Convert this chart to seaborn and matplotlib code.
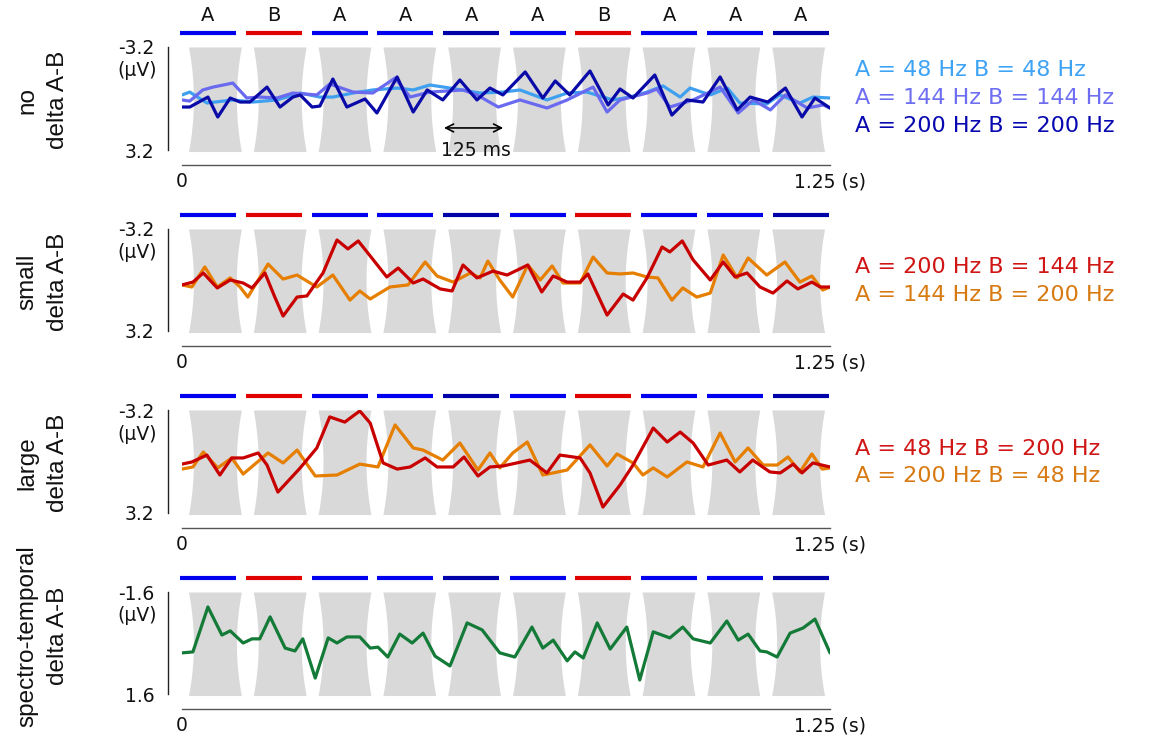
import numpy as np
import pandas as pd
import matplotlib
matplotlib.use("Agg")
import matplotlib.pyplot as plt
import seaborn as sns

# stimulus sequence (10 tones, 125 ms SOA)
tone_labels = ["A", "B", "A", "A", "A", "A", "B", "A", "A", "A"]
bar_colors = ["#0000ee", "#e00000", "#0000ee", "#0000ee", "#0000a8",
              "#0000ee", "#e00000", "#0000ee", "#0000ee", "#0000a8"]
tone_onsets = [0.0125, 0.1375, 0.2625, 0.3875, 0.5125, 0.6375, 0.7625, 0.8875, 1.0125, 1.1375]
tone_dur = 0.102
bar_starts = [-0.004, 0.123, 0.250, 0.377, 0.504, 0.632, 0.759, 0.886, 1.013, 1.140]
bar_len = 0.108

# panel 1: no delta A-B
t_48 = [0.0, 0.015, 0.048, 0.098, 0.137, 0.183, 0.228, 0.266, 0.291, 0.330, 0.368, 0.415, 0.446, 0.478,
        0.517, 0.575, 0.619, 0.652, 0.704, 0.743, 0.781, 0.831, 0.864, 0.897, 0.928, 0.961, 0.980, 1.019,
        1.052, 1.076, 1.128, 1.153, 1.192, 1.217, 1.250]
v_48 = [-0.22, -0.40, 0.28, 0.09, 0.22, 0.09, -0.34, -0.09, -0.09, -0.34, -0.53, -0.65, -0.53, -0.84,
        -0.65, -0.34, -0.40, -0.53, 0.09, -0.34, -0.40, 0.09, -0.09, -0.40, -0.78, -0.09, -0.65, -0.22,
        -0.65, 0.28, 0.34, -0.22, 0.28, -0.09, -0.03]
t_144 = [0.0, 0.015, 0.040, 0.060, 0.098, 0.125, 0.150, 0.183, 0.214, 0.260, 0.285, 0.330, 0.368, 0.411,
         0.440, 0.478, 0.542, 0.569, 0.610, 0.652, 0.704, 0.743, 0.793, 0.820, 0.845, 0.897, 0.916, 0.941,
         0.986, 1.038, 1.073, 1.102, 1.135, 1.164, 1.206, 1.237, 1.250]
v_144 = [0.09, 0.16, -0.53, -0.71, -0.96, -0.03, -0.09, -0.03, -0.34, -0.22, -0.90, -0.40, -0.34, -1.27,
         -0.09, -0.40, -0.53, -0.22, 0.53, 0.09, 0.59, 0.09, -0.71, 0.84, 0.09, -0.34, -0.59, 0.53,
         0.09, -0.71, 0.90, 0.09, 0.71, -0.22, 0.59, 0.40, 0.59]
t_200 = [0.0, 0.015, 0.050, 0.069, 0.093, 0.112, 0.131, 0.164, 0.189, 0.214, 0.228, 0.251, 0.266, 0.291,
         0.318, 0.353, 0.376, 0.415, 0.446, 0.473, 0.503, 0.536, 0.569, 0.594, 0.619, 0.662, 0.696, 0.720,
         0.748, 0.787, 0.822, 0.845, 0.870, 0.912, 0.945, 0.974, 1.005, 1.038, 1.071, 1.096, 1.130, 1.164,
         1.196, 1.221, 1.250]
v_200 = [0.53, 0.53, -0.09, 1.15, -0.03, 0.22, 0.22, -0.71, 0.53, -0.09, -0.22, 0.53, 0.47, -1.21,
         0.53, 0.03, 0.90, -1.34, 0.84, -0.53, 0.09, -1.15, 0.09, -0.65, -0.22, -1.65, -0.03, -1.09,
         -0.22, -1.71, 0.40, -0.59, -0.03, -1.46, 1.03, 0.09, 0.22, -1.34, 0.71, -0.09, 0.22, -0.65,
         1.15, -0.03, 0.59]

# panel 2: small delta A-B
t_s_red = [0.0, 0.021, 0.041, 0.068, 0.093, 0.118, 0.135, 0.160, 0.179, 0.195, 0.222, 0.241, 0.272, 0.299,
           0.320, 0.340, 0.363, 0.395, 0.417, 0.446, 0.465, 0.498, 0.521, 0.542, 0.569, 0.600, 0.627, 0.667,
           0.694, 0.716, 0.743, 0.768, 0.783, 0.820, 0.851, 0.870, 0.897, 0.926, 0.941, 0.965, 0.986, 1.019,
           1.044, 1.067, 1.090, 1.115, 1.140, 1.167, 1.188, 1.215, 1.231, 1.250]
v_s_red = [0.31, 0.13, -0.44, 0.50, 0.0, 0.19, 0.50, -0.44, 1.07, 2.26, 1.07, 1.00, -0.44, -2.51,
           -1.95, -2.45, -1.51, -0.19, -0.75, 0.19, -0.06, 0.56, 0.69, -0.94, -0.13, -0.56, -0.31, -0.94,
           0.75, -0.25, 0.13, 0.13, -0.38, 2.20, 0.88, 1.26, -0.13, -2.07, -1.76, -2.45, -1.26, 0.0,
           -1.13, -0.19, -0.44, 0.44, 0.82, 0.06, 0.56, 0.13, 0.44, 0.44]
t_s_org = [0.0, 0.019, 0.044, 0.068, 0.093, 0.112, 0.127, 0.166, 0.195, 0.222, 0.260, 0.291, 0.324, 0.343,
           0.363, 0.401, 0.436, 0.469, 0.492, 0.523, 0.556, 0.575, 0.590, 0.613, 0.638, 0.667, 0.691, 0.714,
           0.735, 0.768, 0.793, 0.820, 0.845, 0.870, 0.897, 0.918, 0.945, 0.966, 0.993, 1.019, 1.044, 1.071,
           1.092, 1.128, 1.163, 1.192, 1.215, 1.236, 1.250]
v_s_org = [0.31, 0.44, -0.82, 0.44, -0.13, 0.44, 1.07, -1.00, -0.06, -0.31, 0.44, -0.31, 1.26, 0.69,
           1.19, 0.44, 0.31, -1.13, -0.25, 0.13, -0.44, -0.13, -1.19, 0.0, 1.07, -0.94, 0.0, -0.88,
           0.19, 0.19, -1.44, -0.44, -0.38, -0.44, -0.19, -0.13, 1.26, 0.50, 1.07, 0.82, -1.57, -0.13,
           -1.38, -0.31, -1.13, 0.13, -0.25, 0.63, 0.44]

# panel 3: large delta A-B
t_l_red = [0.0, 0.019, 0.048, 0.073, 0.096, 0.118, 0.147, 0.164, 0.185, 0.228, 0.260, 0.285, 0.314, 0.343,
           0.363, 0.388, 0.415, 0.440, 0.469, 0.492, 0.523, 0.544, 0.571, 0.594, 0.619, 0.671, 0.704, 0.729,
           0.768, 0.787, 0.812, 0.845, 0.870, 0.909, 0.936, 0.961, 0.986, 1.015, 1.051, 1.076, 1.101, 1.134,
           1.154, 1.179, 1.196, 1.217, 1.250]
v_l_red = [0.16, 0.03, -0.40, 0.84, -0.22, -0.22, -0.53, 0.22, 1.90, 0.40, -0.84, -2.77, -2.45, -3.14,
           -2.39, 0.09, 0.47, 0.34, -0.22, 0.34, 0.34, -0.28, 0.90, 0.34, 0.28, -0.09, 0.71, -0.40,
           -0.22, 0.71, 2.83, 1.46, 0.22, -2.08, -1.21, -1.83, -1.15, 0.22, -0.09, 0.65, -0.09, 0.65,
           0.71, 0.16, 0.71, 0.09, 0.34]
t_l_org = [0.0, 0.021, 0.041, 0.069, 0.096, 0.118, 0.166, 0.195, 0.222, 0.257, 0.299, 0.343, 0.378, 0.411,
           0.446, 0.465, 0.503, 0.536, 0.571, 0.594, 0.613, 0.638, 0.666, 0.696, 0.743, 0.787, 0.820, 0.839,
           0.870, 0.889, 0.909, 0.936, 0.974, 1.005, 1.038, 1.067, 1.092, 1.121, 1.148, 1.169, 1.192, 1.215,
           1.235, 1.250]
v_l_org = [0.47, 0.34, -0.59, 0.40, -0.22, 0.78, -0.53, 0.09, -0.71, 0.90, 0.84, 0.16, 0.34, -2.27,
           -0.84, -0.71, -0.09, -1.15, 0.53, -0.53, 0.40, -0.53, -1.21, 0.84, 0.53, -1.03, 0.28, -0.47,
           0.09, 0.84, 0.40, 0.96, 0.03, 0.34, -1.77, 0.03, -0.84, 0.22, 0.22, -0.28, 0.65, -0.47,
           0.47, 0.40]

# panel 4: spectro-temporal delta A-B
t_st = [0.0, 0.021, 0.050, 0.077, 0.093, 0.118, 0.135, 0.150, 0.170, 0.199, 0.218, 0.233, 0.257, 0.282,
        0.299, 0.318, 0.343, 0.363, 0.378, 0.397, 0.420, 0.444, 0.465, 0.488, 0.517, 0.550, 0.579, 0.613,
        0.642, 0.675, 0.696, 0.716, 0.743, 0.758, 0.774, 0.801, 0.826, 0.858, 0.883, 0.909, 0.941, 0.966,
        0.986, 1.019, 1.051, 1.073, 1.092, 1.115, 1.128, 1.148, 1.173, 1.198, 1.221, 1.250]
v_st = [0.31, 0.28, -1.13, -0.25, -0.38, 0.0, -0.13, -0.13, -0.82, 0.16, 0.25, -0.13, 1.10, -0.16,
        0.0, -0.19, -0.19, 0.16, 0.13, 0.44, -0.28, 0.0, -0.31, 0.41, 0.72, -0.63, -0.41, 0.31,
        0.44, -0.50, 0.16, -0.09, 0.56, 0.28, 0.47, -0.63, 0.19, -0.50, 1.16, -0.35, -0.16, -0.50,
        -0.13, 0.0, -0.69, -0.09, -0.28, 0.25, 0.28, 0.44, -0.31, -0.47, -0.75, 0.31]

row_titles = ["no\ndelta A-B", "small\ndelta A-B", "large\ndelta A-B", "spectro-temporal\ndelta A-B"]
y_lims = [3.2, 3.2, 3.2, 1.6]

panels = [
    [(t_48, v_48, "#3fa0f0", "A = 48 Hz B = 48 Hz"),
     (t_144, v_144, "#6a6af0", "A = 144 Hz B = 144 Hz"),
     (t_200, v_200, "#0a0aa8", "A = 200 Hz B = 200 Hz")],
    [(t_s_org, v_s_org, "#e67e00", "A = 144 Hz B = 200 Hz"),
     (t_s_red, v_s_red, "#c80000", "A = 200 Hz B = 144 Hz")],
    [(t_l_org, v_l_org, "#e67e00", "A = 200 Hz B = 48 Hz"),
     (t_l_red, v_l_red, "#c80000", "A = 48 Hz B = 200 Hz")],
    [(t_st, v_st, "#137a38", None)],
]
legend_order = [[0, 1, 2], [1, 0], [1, 0], []]
legend_text_colors = {"#3fa0f0": "#3fa3f5", "#6a6af0": "#6e6ef2", "#0a0aa8": "#0808b0",
                      "#c80000": "#d01515", "#e67e00": "#d87a12"}

sns.set_style("white")
plt.rcParams["font.family"] = ["DejaVu Sans"]

W, H = 1159, 736
fig = plt.figure(figsize=(W / 100, H / 100), dpi=100)

# axes placement in pixels: (top of y-range, bottom of y-range)
ax_px = [(47, 150), (229, 331), (410, 513), (592, 694)]
x0_px, x1_px = 182, 830
legend_y_px = [[70, 98, 126], [267, 295], [449, 476], []]
title_y_px = [100, 282, 463, 636]

for i, (top, bot) in enumerate(ax_px):
    ax = fig.add_axes([x0_px / W, 1 - bot / H, (x1_px - x0_px) / W, (bot - top) / H])
    lim = y_lims[i]
    ax.set_xlim(0, 1.25)
    ax.set_ylim(lim, -lim)

    # tone waveforms (grey envelope blocks)
    yy = np.linspace(-lim, lim * 1.03, 80)
    c, h = (yy[0] + yy[-1]) / 2, (yy[-1] - yy[0]) / 2
    inset = 0.0095 * (1 - ((yy - c) / h) ** 2)
    for on in tone_onsets:
        ax.fill_betweenx(yy, on + inset, on + tone_dur - inset, color="#d9d9d9", lw=0, zorder=0,
                         clip_on=False)

    # tone identity bars above each panel
    trans = ax.get_xaxis_transform()
    for k, bs in enumerate(bar_starts):
        ax.plot([bs, bs + bar_len], [1.135, 1.135], transform=trans, color=bar_colors[k],
                lw=3.0, solid_capstyle="butt", clip_on=False)
        if i == 0:
            ax.text(bs + bar_len / 2, 1.31, tone_labels[k], transform=trans, ha="center", va="center",
                    fontsize=14, color="#111111")

    for t, v, col, lab in panels[i]:
        sns.lineplot(x=t, y=v, ax=ax, color=col, linewidth=2.3, sort=False, estimator=None,
                     legend=False, zorder=3, solid_joinstyle="round", solid_capstyle="round")

    for side in ["top", "right"]:
        ax.spines[side].set_visible(False)
    ax.spines["left"].set_position(("outward", 10))
    ax.spines["left"].set_bounds(-lim, lim)
    ax.spines["left"].set_color("#222222")
    ax.spines["bottom"].set_position(("outward", 11))
    ax.spines["bottom"].set_bounds(0, 1.25)
    ax.spines["bottom"].set_color("#555555")
    for sp in ["left", "bottom"]:
        ax.spines[sp].set_linewidth(1.0)
    ax.set_yticks([-lim, lim], [f"-{lim}", f"{lim}"])
    ax.set_xticks([0, 1.25], ["0", "1.25 (s)"])
    ax.tick_params(axis="y", direction="out", length=5, width=1, pad=5, labelsize=13.5,
                   colors="#222222", labelcolor="#111111")
    ax.tick_params(axis="x", direction="out", length=3, width=1, pad=2, labelsize=13.5,
                   colors="#555555", labelcolor="#111111")
    ax.set_xlabel("")
    ax.set_ylabel("")
    ax.text(-0.039, 1 - (71 - 47) / 103, "(\u03bcV)", transform=ax.transAxes, ha="right", va="center",
            fontsize=13.5, color="#111111")

    # row title at far left
    fig.text(43 / W, 1 - title_y_px[i] / H, row_titles[i], rotation=90, ha="center", va="center",
             multialignment="center", fontsize=17.5, linespacing=1.5, color="#111111",
             family=["Liberation Sans", "DejaVu Sans"])

    # coloured text legend at right
    for j, idx in enumerate(legend_order[i]):
        _, _, col, lab = panels[i][idx]
        fig.text(855 / W, 1 - legend_y_px[i][j] / H, lab, ha="left", va="center",
                 fontsize=16, color=legend_text_colors[col])

    if i == 0:
        ax.annotate("", xy=(0.500, 1.83), xytext=(0.625, 1.83),
                    arrowprops=dict(arrowstyle="<->", color="black", lw=1.2, mutation_scale=14))
        ax.text(0.567, 3.2, "125 ms", ha="center", va="center", fontsize=13.5, color="#111111")

fig.savefig("out.png", dpi=100)
